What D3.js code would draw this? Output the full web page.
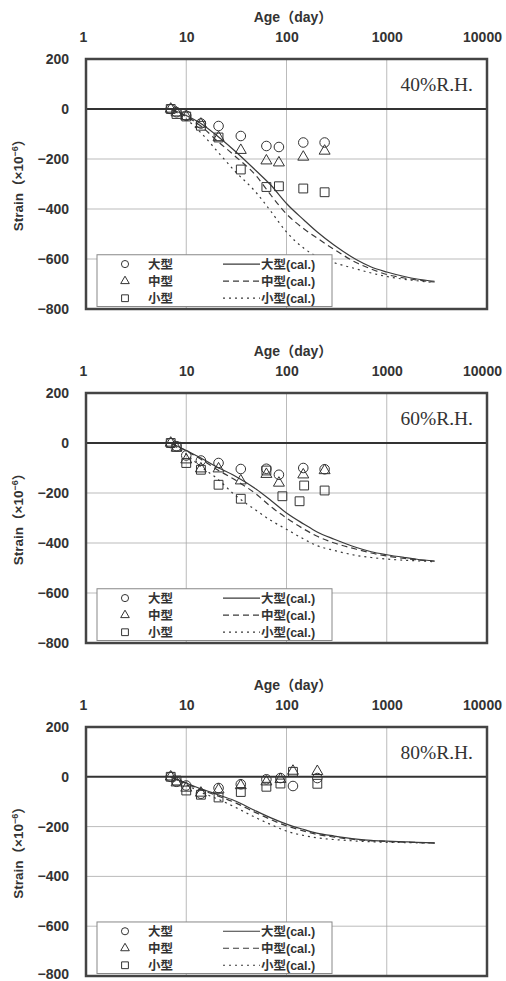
<!DOCTYPE html>
<html><head><meta charset="utf-8">
<script src="https://cdn.jsdelivr.net/npm/d3@7"></script>
<style>html,body{margin:0;padding:0;background:#fff;} svg{display:block;}</style>
</head><body><svg id="c" width="506" height="981"></svg>
<script>
// ---- tick labels / categories ----
const xTicks = [1, 10, 100, 1000, 10000];
const yTicks = [200, 0, -200, -400, -600, -800];
const humidity = ["40%R.H.", "60%R.H.", "80%R.H."];
const seriesNames = ["大型", "中型", "小型"];
const calNames = ["大型", "中型", "小型"];

// ---- measured data (age in days, strain ×10^-6) ----
const ages40 = [7, 8, 10, 14, 21, 35, 63, 84, 147, 240];
const large40 = [0, -13, -27, -58, -68, -108, -148, -152, -134, -134];
const medium40 = [0, -15, -30, -60, -114, -165, -207, -215, -192, -168];
const agesSmall40 = [7, 8, 10, 14, 21, 35, 63, 84, 147, 240];
const small40 = [0, -20, -30, -67, -114, -242, -312, -309, -318, -333];

const ages60 = [7, 8, 10, 14, 21, 35, 63, 84, 147, 240];
const large60 = [0, -13, -50, -70, -80, -104, -103, -127, -100, -105];
const medium60 = [0, -20, -67, -103, -103, -151, -125, -160, -127, -110];
const agesSmall60 = [7, 8, 10, 14, 21, 35, 63, 91, 135, 150, 240];
const small60 = [0, -15, -80, -107, -167, -223, -110, -213, -233, -170, -190];

const ages80 = [7, 8, 10, 14, 21, 35, 63, 87, 116, 203];
const large80 = [0, -20, -35, -68, -45, -30, -10, -5, -37, -5];
const medium80 = [0, -24, -45, -65, -52, -35, -20, -10, 23, 22];
const agesSmall80 = [7, 8, 10, 14, 21, 35, 63, 87, 116, 203];
const small80 = [0, -15, -55, -72, -83, -61, -40, -27, 20, -28];

// ---- calculated curves ----
const calAges = [7, 10, 14, 20, 30, 50, 70, 100, 150, 200, 300, 500, 700, 1000, 1500, 2000, 3000];
const large40cal = [0, -26, -58, -105, -165, -248, -305, -378, -445, -490, -545, -603, -632, -652, -670, -680, -689];
const medium40cal = [0, -30, -68, -125, -185, -268, -345, -420, -480, -515, -562, -615, -640, -662, -676, -684, -692];
const small40cal = [0, -40, -95, -165, -245, -335, -410, -492, -558, -590, -615, -640, -656, -670, -681, -687, -694];

const large60cal = [0, -30, -60, -95, -130, -185, -230, -280, -325, -355, -385, -418, -435, -447, -458, -465, -472];
const medium60cal = [0, -32, -65, -105, -145, -205, -255, -300, -345, -372, -400, -425, -440, -452, -462, -467, -473];
const small60cal = [0, -45, -95, -140, -205, -270, -310, -345, -385, -410, -430, -450, -458, -464, -469, -471, -475];

const large80cal = [0, -25, -48, -70, -95, -138, -165, -190, -212, -226, -238, -250, -255, -258, -261, -263, -265];
const medium80cal = [0, -27, -52, -75, -102, -145, -172, -197, -218, -231, -242, -253, -257, -260, -262, -264, -266];
const small80cal = [0, -32, -62, -87, -120, -165, -192, -218, -236, -245, -252, -258, -261, -263, -264, -265, -266];

const panels = [
  {label: humidity[0], top: 59, bottom: 309,
   pts: [[ages40, large40], [ages40, medium40], [agesSmall40, small40]],
   cal: [large40cal, medium40cal, small40cal]},
  {label: humidity[1], top: 393, bottom: 643,
   pts: [[ages60, large60], [ages60, medium60], [agesSmall60, small60]],
   cal: [large60cal, medium60cal, small60cal]},
  {label: humidity[2], top: 727, bottom: 976,
   pts: [[ages80, large80], [ages80, medium80], [agesSmall80, small80]],
   cal: [large80cal, medium80cal, small80cal]}
];

const svg = d3.select("#c");
const left = 86, right = 487;
const ink = "#333";
const sansB = "'Liberation Sans', Arial, 'Noto Sans CJK JP', sans-serif";
const symbols = [d3.symbolCircle, d3.symbolTriangle, d3.symbolSquare];
const symSize = [72, 52, 78];
const legSize = [40, 32, 46];
const dashes = [null, "6,4", "2,4"];

panels.forEach((p, pi) => {
  const x = d3.scaleLog().domain([1, 10000]).range([left, right]);
  const y = d3.scaleLinear().domain([-800, 200]).range([p.bottom, p.top]);
  const g = svg.append("g");

  // grid
  g.append("g").selectAll("line").data([10, 100, 1000]).join("line")
    .attr("x1", d => x(d)).attr("x2", d => x(d)).attr("y1", p.top).attr("y2", p.bottom)
    .attr("stroke", "#aaa").attr("stroke-width", 0.8);
  g.append("g").selectAll("line").data([-200, -400, -600]).join("line")
    .attr("x1", left).attr("x2", right).attr("y1", d => y(d)).attr("y2", d => y(d))
    .attr("stroke", "#aaa").attr("stroke-width", 0.8);

  // zero line
  g.append("line").attr("x1", left).attr("x2", right).attr("y1", y(0)).attr("y2", y(0))
    .attr("stroke", ink).attr("stroke-width", 2);

  // calculated curves
  const line = d3.line().x((d, i) => x(calAges[i])).y(d => y(d)).curve(d3.curveMonotoneX);
  p.cal.forEach((vals, k) => {
    g.append("path").attr("d", line(vals)).attr("fill", "none")
      .attr("stroke", "#3a3a3a").attr("stroke-width", 1.2)
      .attr("stroke-dasharray", dashes[k]);
  });

  // measured points
  p.pts.forEach(([ages, vals], k) => {
    const sym = d3.symbol().type(symbols[k]).size(symSize[k]);
    g.append("g").selectAll("path").data(vals).join("path")
      .attr("transform", (d, i) => `translate(${x(ages[i])},${y(d)})`)
      .attr("d", sym).attr("fill", "none").attr("stroke", ink).attr("stroke-width", 1);
  });

  // frame
  g.append("rect").attr("x", left).attr("y", p.top).attr("width", right - left)
    .attr("height", p.bottom - p.top).attr("fill", "none").attr("stroke", "#444").attr("stroke-width", 2.5);

  // top axis
  const ax = g.append("g").attr("transform", `translate(0,${p.top - 17})`)
    .call(d3.axisTop(x).tickValues(xTicks).tickFormat(d3.format("d")).tickSize(0).tickPadding(0));
  ax.select(".domain").remove();
  ax.selectAll("text").attr("font-family", sansB).attr("font-weight", "bold")
    .attr("font-size", 14).attr("fill", ink).attr("dy", 0)
    .attr("dx", d => d === 10000 ? -5 : (d === 1 ? -3 : 0));

  // left axis
  const ay = g.append("g").attr("transform", `translate(69,0)`)
    .call(d3.axisLeft(y).tickValues(yTicks).tickFormat(d => d < 0 ? "−" + Math.abs(d) : d).tickSize(0).tickPadding(0));
  ay.select(".domain").remove();
  ay.selectAll("text").attr("font-family", sansB).attr("font-weight", "bold")
    .attr("font-size", 14).attr("fill", ink)
    .attr("dy", d => (pi === 2 && d === -800) ? "0.15em" : "0.32em");

  // axis titles
  g.append("text").attr("x", 293).attr("y", p.top - 37).attr("text-anchor", "middle")
    .attr("font-family", sansB).attr("font-weight", "bold").attr("font-size", 14).attr("fill", ink)
    .text("Age（day）");
  const yt = g.append("text")
    .attr("transform", `translate(23,${(p.top + p.bottom) / 2 - 2}) rotate(-90)`)
    .attr("text-anchor", "middle").attr("font-family", sansB).attr("font-size", 13.5)
    .attr("font-weight", "bold").attr("fill", ink);
  yt.append("tspan").text("Strain（×10");
  yt.append("tspan").attr("baseline-shift", "super").attr("font-size", 9).text("−6");
  yt.append("tspan").text("）");

  // humidity label
  g.append("text").attr("x", right - 14).attr("y", p.top + 32).attr("text-anchor", "end")
    .attr("font-family", "'Liberation Serif', 'DejaVu Serif', serif").attr("font-size", 19.5)
    .attr("fill", ink).text(p.label);

  // legend
  const ly0 = y(-583), ly1 = y(-790);
  const lg = g.append("g");
  lg.append("rect").attr("x", 97).attr("y", ly0).attr("width", 235).attr("height", ly1 - ly0)
    .attr("fill", "#fff").attr("stroke", "#888").attr("stroke-width", 1);
  [0.18, 0.51, 0.84].forEach((f, k) => {
    const yy = ly0 + f * (ly1 - ly0);
    lg.append("path").attr("transform", `translate(125,${yy})`)
      .attr("d", d3.symbol().type(symbols[k]).size(legSize[k])).attr("fill", "none")
      .attr("stroke", ink).attr("stroke-width", 1);
    lg.append("text").attr("x", 148).attr("y", yy + 5)
      .attr("font-family", sansB).attr("font-weight", "bold").attr("font-size", 12.5).attr("fill", ink)
      .text(seriesNames[k]);
    lg.append("line").attr("x1", 223).attr("x2", 260).attr("y1", yy).attr("y2", yy)
      .attr("stroke", "#3a3a3a").attr("stroke-width", 1.2).attr("stroke-dasharray", dashes[k]);
    lg.append("text").attr("x", 261).attr("y", yy + 5)
      .attr("font-family", sansB).attr("font-weight", "bold").attr("font-size", 12.5).attr("fill", ink)
      .text(calNames[k] + "(cal.)");
  });
});
</script>
</body></html>
